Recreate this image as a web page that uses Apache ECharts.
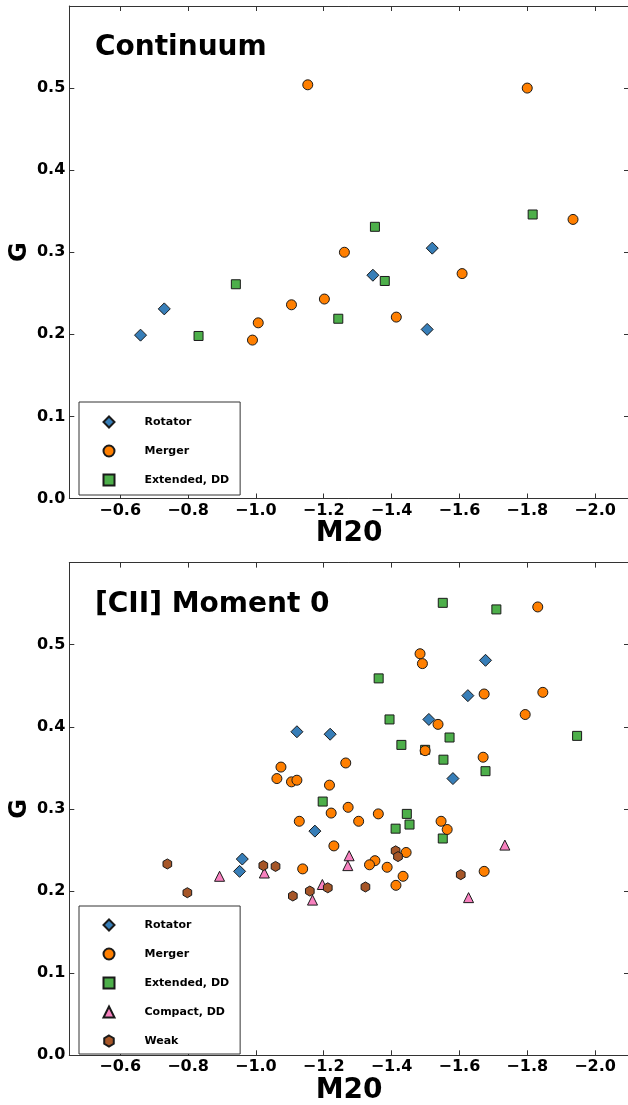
<!DOCTYPE html>
<html>
<head>
<meta charset="utf-8">
<script src="https://cdn.jsdelivr.net/npm/echarts@6/dist/echarts.min.js"></script>
<style>
html,body{margin:0;padding:0;background:#fff;}
#chart{width:628px;height:1105px;}
</style>
</head>
<body>
<div id="chart"></div>
<script>
// ---- Data (M20, G) ----
const contRotator = [[-0.660,0.199],[-0.730,0.231],[-1.345,0.272],[-1.520,0.305],[-1.505,0.206]];
const contMerger = [[-1.153,0.504],[-1.800,0.500],[-1.935,0.340],[-1.261,0.300],[-1.608,0.274],[-0.990,0.193],[-1.007,0.214],[-1.105,0.236],[-1.202,0.243],[-1.414,0.221]];
const contExtended = [[-1.816,0.346],[-1.351,0.331],[-1.380,0.265],[-0.941,0.261],[-0.831,0.198],[-1.243,0.219]];

const momRotator = [[-1.677,0.481],[-1.625,0.438],[-1.510,0.409],[-1.121,0.394],[-1.219,0.391],[-1.581,0.337],[-1.174,0.273],[-0.960,0.239],[-0.952,0.224]];
const momMerger = [[-1.831,0.546],[-1.484,0.489],[-1.491,0.477],[-1.673,0.440],[-1.846,0.442],[-1.794,0.415],[-1.537,0.403],[-1.499,0.371],[-1.670,0.363],[-1.074,0.351],[-1.265,0.356],[-1.062,0.337],[-1.105,0.333],[-1.121,0.335],[-1.217,0.329],[-1.272,0.302],[-1.222,0.295],[-1.361,0.294],[-1.128,0.285],[-1.303,0.285],[-1.546,0.285],[-1.564,0.275],[-1.230,0.255],[-1.443,0.247],[-1.351,0.237],[-1.335,0.232],[-1.387,0.229],[-1.138,0.227],[-1.673,0.224],[-1.434,0.218],[-1.413,0.207]];
const momExtended = [[-1.551,0.551],[-1.709,0.543],[-1.362,0.459],[-1.394,0.409],[-1.571,0.387],[-1.947,0.389],[-1.429,0.378],[-1.499,0.372],[-1.553,0.360],[-1.677,0.346],[-1.197,0.309],[-1.445,0.294],[-1.453,0.281],[-1.412,0.276],[-1.551,0.264]];
const momCompact = [[-1.734,0.256],[-1.275,0.243],[-1.271,0.231],[-1.025,0.222],[-0.893,0.218],[-1.196,0.208],[-1.167,0.189],[-1.627,0.192]];
const momWeak = [[-0.739,0.233],[-0.798,0.198],[-1.022,0.231],[-1.058,0.230],[-1.109,0.194],[-1.159,0.200],[-1.212,0.204],[-1.323,0.205],[-1.412,0.249],[-1.419,0.242],[-1.604,0.220]];

const panelTitles = ['Continuum', '[CII] Moment 0'];
const legendTop = ['Rotator', 'Merger', 'Extended, DD'];
const legendBottom = ['Rotator', 'Merger', 'Extended, DD', 'Compact, DD', 'Weak'];
const xName = 'M20';
const yName = 'G';

// ---- Styles ----
const FONT = 'DejaVu Sans';
const EDGE = '#1a1a1a';
const AXC = '#333';
const HEX = 'path://M0,-10L8.66,-5L8.66,5L0,10L-8.66,5L-8.66,-5Z';
const styles = {
  'Rotator': {symbol: 'diamond', size: 12, color: '#377eb8'},
  'Merger': {symbol: 'circle', size: 10, color: '#ff7f00'},
  'Extended, DD': {symbol: 'rect', size: 9, color: '#4daf4a'},
  'Compact, DD': {symbol: 'triangle', size: 10, color: '#f781bf'},
  'Weak': {symbol: HEX, size: 10, color: '#a65628'}
};

const grids = [
  {left: 69.3, top: 6, width: 559.7, height: 492.5, containLabel: false, outerBoundsMode: 'none'},
  {left: 69.3, top: 562.6, width: 559.7, height: 492.7, containLabel: false, outerBoundsMode: 'none'}
];

function fmtX(v){ return (v < 0 ? '\u2212' : '') + Math.abs(v).toFixed(1); }

function xAx(gi, pos){
  const main = pos === 'bottom';
  return {
    type: 'value', gridIndex: gi, position: pos, inverse: true,
    min: -2.1, max: -0.45, splitNumber: 8,
    name: main ? xName : '', nameLocation: 'middle', nameGap: 21, nameMoveOverlap: false,
    nameTextStyle: {fontSize: 28, fontWeight: 'bold', fontFamily: FONT, color: '#000'},
    axisLine: {show: true, onZero: false, lineStyle: {color: AXC, width: 1}},
    axisTick: {show: true, inside: true, length: 5, lineStyle: {color: AXC}},
    axisLabel: {show: main, showMinLabel: false, showMaxLabel: false, margin: 4,
      fontSize: 16, fontWeight: 'bold', fontFamily: FONT, color: '#000', formatter: fmtX},
    splitLine: {show: false}
  };
}
function yAx(gi, pos){
  const main = pos === 'left';
  return {
    type: 'value', gridIndex: gi, position: pos,
    min: 0, max: 0.6, interval: 0.1,
    name: main ? yName : '', nameLocation: 'middle', nameGap: 38, nameRotate: 90,
    nameMoveOverlap: false,
    nameTextStyle: {fontSize: 24, fontWeight: 'bold', fontFamily: FONT, color: '#000'},
    axisLine: {show: true, onZero: false, lineStyle: {color: AXC, width: 1}},
    axisTick: {show: true, inside: true, length: 5, lineStyle: {color: AXC}},
    axisLabel: {show: main, showMaxLabel: false, margin: 4,
      fontSize: 16, fontWeight: 'bold', fontFamily: FONT, color: '#000',
      formatter: v => v.toFixed(1)},
    splitLine: {show: false}
  };
}

function ser(name, data, axisIdx, z){
  const s = styles[name];
  return {
    type: 'scatter', name: name, data: data,
    xAxisIndex: axisIdx, yAxisIndex: axisIdx,
    symbol: s.symbol, symbolSize: s.size, symbolKeepAspect: true,
    itemStyle: {color: s.color, borderColor: EDGE, borderWidth: 1, opacity: 1},
    emphasis: {disabled: true}, z: z
  };
}

function legend(names, top, pad){
  return {
    orient: 'vertical', left: 79, top: top, data: names,
    padding: pad, itemGap: 16, itemWidth: 11, itemHeight: 11,
    backgroundColor: '#fff', borderColor: '#333', borderWidth: 1, borderRadius: 0,
    selectedMode: false,
    textStyle: {fontSize: 11, fontWeight: 'bold', fontFamily: FONT, color: '#000',
      lineHeight: 11, padding: [0, 0, 0, 25]}
  };
}

const option = {
  animation: false,
  backgroundColor: '#fff',
  title: [
    {text: panelTitles[0], left: 95, top: 34, padding: 0,
     textStyle: {fontSize: 28, fontWeight: 'bold', fontFamily: FONT, color: '#000'}},
    {text: panelTitles[1], left: 95, top: 591, padding: 0,
     textStyle: {fontSize: 28, fontWeight: 'bold', fontFamily: FONT, color: '#000'}}
  ],
  grid: grids,
  xAxis: [xAx(0,'bottom'), xAx(0,'top'), xAx(1,'bottom'), xAx(1,'top')],
  yAxis: [yAx(0,'left'), yAx(0,'right'), yAx(1,'left'), yAx(1,'right')],
  legend: [
    legend(legendTop, 402, [13.5, 11, 8.5, 23.5]),
    legend(legendBottom, 906, [12.5, 11, 6.5, 23.5])
  ],
  series: [
    ser('Rotator', contRotator, 0, 3),
    ser('Extended, DD', contExtended, 0, 2),
    ser('Merger', contMerger, 0, 4),
    ser('Rotator', momRotator, 2, 3),
    ser('Extended, DD', momExtended, 2, 2),
    ser('Merger', momMerger, 2, 4),
    ser('Compact, DD', momCompact, 2, 5),
    ser('Weak', momWeak, 2, 5)
  ]
};

const chart = echarts.init(document.getElementById('chart'), null, {renderer: 'canvas'});
chart.setOption(option);
</script>
</body>
</html>
